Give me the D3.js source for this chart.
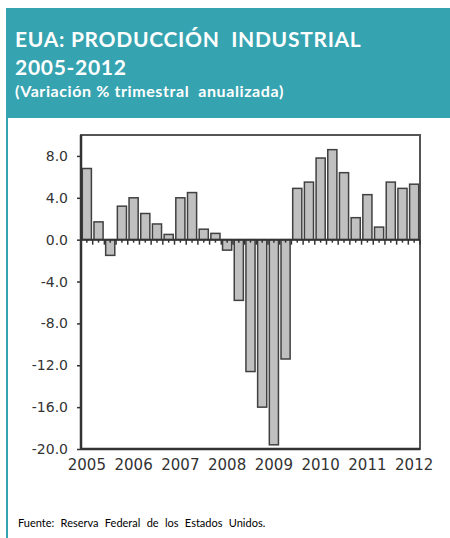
<!DOCTYPE html>
<html>
<head>
<meta charset="utf-8">
<script src="https://cdn.jsdelivr.net/npm/d3@7"></script>
<style>
  body { margin: 0; background: #fff; }
  svg { display: block; }
</style>
</head>
<body>
<svg id="chart" width="450" height="538"></svg>
<script>
// quarterly values, 2005 Q1 .. 2012 Q1
const quarters = ['2005Q1','2005Q2','2005Q3','2005Q4','2006Q1','2006Q2','2006Q3','2006Q4',
  '2007Q1','2007Q2','2007Q3','2007Q4','2008Q1','2008Q2','2008Q3','2008Q4',
  '2009Q1','2009Q2','2009Q3','2009Q4','2010Q1','2010Q2','2010Q3','2010Q4',
  '2011Q1','2011Q2','2011Q3','2011Q4','2012Q1'];
const values = [6.8, 1.7, -1.5, 3.2, 4.0, 2.5, 1.5, 0.5,
  4.0, 4.5, 1.0, 0.6, -1.0, -5.8, -12.6, -16.0,
  -19.6, -11.4, 4.9, 5.5, 7.8, 8.6, 6.4, 2.1,
  4.3, 1.2, 5.5, 4.9, 5.3];
const yTicks = [8, 4, 0, -4, -8, -12, -16, -20];
const yearLabels = ['2005','2006','2007','2008','2009','2010','2011','2012'];

const teal = '#36a3b0';
const svg = d3.select('#chart');

// header
svg.append('rect').attr('x', 6).attr('y', 8).attr('width', 444).attr('height', 110).attr('fill', teal);
svg.append('rect').attr('x', 6).attr('y', 118).attr('width', 2).attr('height', 420).attr('fill', teal);

const title = svg.append('g').attr('fill', '#fff').attr('font-family', 'Lato, "Open Sans", sans-serif').attr('font-weight', 'bold');
title.append('text').attr('x', 15).attr('y', 47).attr('font-size', 21).attr('letter-spacing', 0.7)
  .text('EUA: PRODUCCIÓN  INDUSTRIAL').attr('xml:space', 'preserve');
title.append('text').attr('x', 15).attr('y', 75).attr('font-size', 21).attr('letter-spacing', 0.7)
  .text('2005-2012');
title.append('text').attr('x', 15).attr('y', 97).attr('font-size', 16).attr('letter-spacing', 0.6)
  .text('(Variación % trimestral  anualizada)').attr('xml:space', 'preserve');

// plot area
const margin = {top: 135, right: 30, bottom: 89, left: 81};
const width = 450 - margin.left - margin.right,
  height = 538 - margin.top - margin.bottom;
const g = svg.append('g').attr('transform', 'translate(' + margin.left + ',' + margin.top + ')');

const xScale = d3.scaleBand().domain(quarters).range([0, width]).paddingInner(0.22).paddingOuter(0.11);
const yScale = d3.scaleLinear().domain([-20, 10]).range([height, 0]);

g.append('rect').attr('width', width).attr('height', height)
  .attr('fill', 'none').attr('stroke', '#555').attr('stroke-width', 2);

// y axis
const yAxis = d3.axisLeft(yScale).tickValues(yTicks).tickSize(4).tickPadding(9)
  .tickFormat(d => d3.format('.1f')(d).replace('\u2212', '-'));
g.append('g')
  .call(yAxis)
  .call(function (a) {
    a.select('.domain').remove();
    a.selectAll('.tick line').attr('stroke', '#333').attr('stroke-width', 1.5);
    a.selectAll('.tick text').attr('fill', '#333').attr('font-size', 14)
      .attr('font-family', '"DejaVu Sans", sans-serif');
  });

// bars
g.selectAll('.bar').data(values).enter().append('rect')
  .attr('class', 'bar')
  .attr('x', (d, i) => xScale(quarters[i]))
  .attr('y', d => yScale(Math.max(0, d)))
  .attr('width', xScale.bandwidth())
  .attr('height', d => Math.abs(yScale(d) - yScale(0)))
  .attr('fill', '#c0c0c0')
  .attr('stroke', '#404040')
  .attr('stroke-width', 1.5);

// zero line with category ticks
const step = xScale.step();
const tickPos = [];
for (let i = 0; i <= quarters.length; i++) tickPos.push(i);
g.append('g').selectAll('line.bt').data(tickPos).enter().append('line')
  .attr('x1', d => d * step).attr('x2', d => d * step)
  .attr('y1', yScale(0)).attr('y2', yScale(0) + 5)
  .attr('stroke', '#333').attr('stroke-width', 1.5);
g.append('g').selectAll('line.ct').data(quarters).enter().append('line')
  .attr('x1', d => xScale(d) + xScale.bandwidth() / 2).attr('x2', d => xScale(d) + xScale.bandwidth() / 2)
  .attr('y1', yScale(0)).attr('y2', yScale(0) + 3)
  .attr('stroke', '#333').attr('stroke-width', 1.5);
g.append('line').attr('x1', 0).attr('x2', width).attr('y1', yScale(0)).attr('y2', yScale(0))
  .attr('stroke', '#333').attr('stroke-width', 2);

// left and bottom axis lines
g.append('line').attr('x1', 0).attr('x2', 0).attr('y1', 0).attr('y2', height)
  .attr('stroke', '#333').attr('stroke-width', 2.5);
g.append('line').attr('x1', 0).attr('x2', width).attr('y1', height).attr('y2', height)
  .attr('stroke', '#333').attr('stroke-width', 2.5);

// year labels
g.append('g').selectAll('text').data(yearLabels).enter().append('text')
  .attr('x', (d, i) => xScale(quarters[i * 4]) + xScale.bandwidth() / 2)
  .attr('y', height + 21)
  .attr('text-anchor', 'middle')
  .attr('fill', '#333').attr('font-size', 15)
  .attr('font-family', '"DejaVu Sans", sans-serif')
  .text(d => d);

// source
svg.append('text').attr('x', 18).attr('y', 527)
  .attr('font-family', 'Lato, "Open Sans", sans-serif').attr('font-size', 11)
  .attr('fill', '#000').attr('word-spacing', 3.5)
  .text('Fuente: Reserva Federal de los Estados Unidos.');
</script>
</body>
</html>
